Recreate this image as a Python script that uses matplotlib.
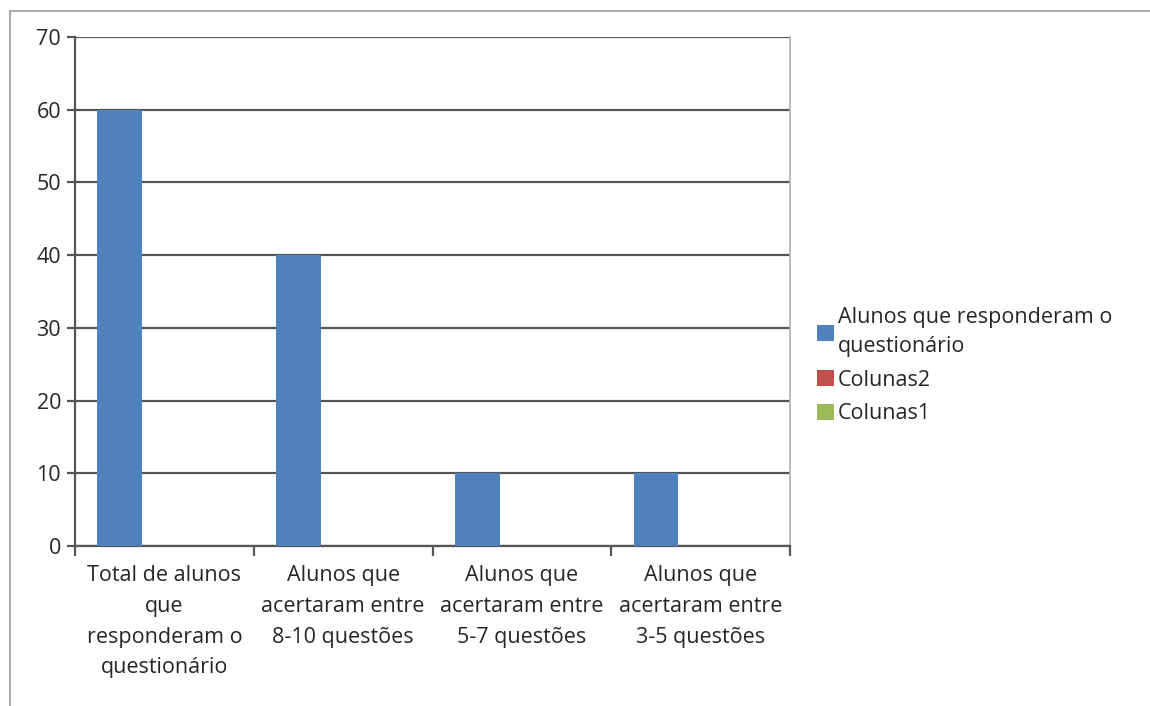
import matplotlib.pyplot as plt
import numpy as np
from matplotlib.lines import Line2D

plt.rcParams['font.family'] = ['Open Sans', 'DejaVu Sans']

categories = [
    "Total de alunos\nque\nresponderam o\nquestionário",
    "Alunos que\nacertaram entre\n8-10 questões",
    "Alunos que\nacertaram entre\n5-7 questões",
    "Alunos que\nacertaram entre\n3-5 questões",
]
series_names = ["Alunos que responderam o\nquestionário", "Colunas2", "Colunas1"]
alunos = [60, 40, 10, 10]
colunas2 = [0, 0, 0, 0]
colunas1 = [0, 0, 0, 0]
colors = ["#4F81BD", "#C0504D", "#9BBB59"]

fig = plt.figure(figsize=(11.5, 7.06), dpi=100)
ax = fig.add_axes([0.0652, 0.2266, 0.687 - 0.0652, 0.9476 - 0.2266])

x = np.arange(len(categories))
w = 0.25
for i, (vals, name, c) in enumerate(zip([alunos, colunas2, colunas1], series_names, colors)):
    ax.bar(x - w + i * w, vals, width=w, color=c, label=name, zorder=3)

ax.set_xlim(-0.5, len(categories) - 0.5)
ax.set_ylim(0, 70)
ax.set_yticks(range(0, 71, 10))
ax.yaxis.grid(True, color="#555555", linewidth=1.6, zorder=0)
ax.set_axisbelow(True)

ax.set_xticks(np.arange(-0.5, len(categories), 1))
ax.set_xticklabels([])
ax.set_xticks(x, minor=True)
ax.set_xticklabels(categories, minor=True, fontsize=15.5, color="#262626", linespacing=1.6)
ax.tick_params(axis="x", which="major", direction="out", length=7, width=1.6, color="#555555")
ax.tick_params(axis="x", which="minor", length=0, pad=14)
ax.tick_params(axis="y", direction="out", length=6, width=1.6, color="#555555",
               labelsize=15.5, labelcolor="#262626", pad=4)

for s in ["left", "bottom"]:
    ax.spines[s].set_color("#555555")
    ax.spines[s].set_linewidth(1.6)
ax.spines["top"].set_visible(False)
ax.spines["right"].set_color("#b0b0b0")
ax.spines["right"].set_linewidth(1.2)

leg = fig.legend(loc="center left", bbox_to_anchor=(0.694, 0.482), frameon=False,
                 fontsize=15.5, handlelength=0.75, handleheight=0.75, handletextpad=0.2,
                 labelspacing=0.58)
for t in leg.get_texts():
    t.set_color("#262626")
    t.set_linespacing(1.5)

# outer chart border
fig.add_artist(Line2D([10 / 1150, 1], [1 - 11 / 706, 1 - 11 / 706], color="#9a9a9a", lw=1.2))
fig.add_artist(Line2D([10 / 1150, 10 / 1150], [0, 1 - 11 / 706], color="#9a9a9a", lw=1.2))

fig.savefig("out.png", dpi=100)
plt.close(fig)
